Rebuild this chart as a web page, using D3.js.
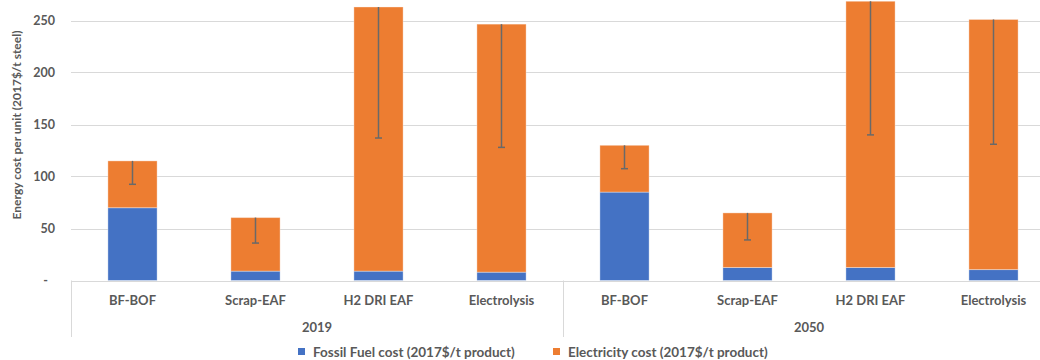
<!DOCTYPE html>
<html>
<head>
<meta charset="utf-8">
<script src="https://cdn.jsdelivr.net/npm/d3@7/dist/d3.min.js"></script>
<style>
  html, body { margin: 0; padding: 0; background: #fff; overflow: hidden; }
  svg { display: block; }
  text { font-family: "Lato", "Open Sans", sans-serif; fill: #595959; }
</style>
</head>
<body>
<svg id="chart" width="1040" height="360"></svg>
<script>
const years = ["2019", "2050"];
const processes = ["BF-BOF", "Scrap-EAF", "H2 DRI EAF", "Electrolysis"];
// order: 2019 x4, then 2050 x4
const fossilCost = [70, 9, 9, 8, 85, 12.5, 12.5, 10.5];
const electricityCost = [45, 51.5, 254, 238.5, 45, 52.5, 256, 240.5];
const errorLow = [92.5, 36, 137, 128, 107.5, 39, 140, 131];
const yTicks = [0, 50, 100, 150, 200, 250];
const seriesNames = ["Fossil Fuel cost (2017$/t product)", "Electricity cost (2017$/t product)"];
const colors = ["#4472C4", "#ED7D31"];

const rows = [];
years.forEach((yr, yi) => processes.forEach((p, pi) => {
  const i = yi * processes.length + pi;
  rows.push({ key: yr + "|" + p, year: yr, proc: p, fossil: fossilCost[i], elec: electricityCost[i], low: errorLow[i] });
}));

const svg = d3.select("#chart");
const left = 71, right = 1055, y0 = 280.5;

const x = d3.scaleBand().domain(rows.map(d => d.key)).range([left, right]).paddingInner(0.6).paddingOuter(0.3);
const y = d3.scaleLinear().domain([0, 250]).range([y0, 20.5]);

// gridlines
svg.append("g").selectAll("line").data(yTicks).join("line")
  .attr("x1", left).attr("x2", right)
  .attr("y1", d => Math.round(y(d)) + 0.5).attr("y2", d => Math.round(y(d)) + 0.5)
  .attr("stroke", "#d9d9d9").attr("stroke-width", 1.2);

// y tick labels
svg.append("g").selectAll("text").data(yTicks).join("text")
  .attr("x", d => d === 0 ? 48 : 55).attr("y", d => y(d)).attr("dy", "0.35em")
  .attr("text-anchor", "end").attr("font-size", 12.5).attr("font-weight", "bold")
  .text(d => d === 0 ? "-" : d);

// y title
svg.append("text")
  .attr("transform", "translate(21,125) rotate(-90)")
  .attr("text-anchor", "middle").attr("font-size", 12).attr("font-weight", "bold")
  .text("Energy cost per unit  (2017$/t steel)");

const stack = d3.stack().keys(["fossil", "elec"])(rows);
svg.append("g").selectAll("g").data(stack).join("g")
  .attr("fill", (d, i) => colors[i])
  .selectAll("rect").data(d => d).join("rect")
  .attr("x", d => x(d.data.key)).attr("width", x.bandwidth())
  .attr("y", d => y(d[1])).attr("height", d => y(d[0]) - y(d[1]))
  .attr("stroke", "rgba(255,255,255,0.35)").attr("stroke-width", 1);

// error bars (minus)
const eg = svg.append("g").attr("stroke", "#696969").attr("stroke-width", 1.5);
rows.forEach(d => {
  const cx = x(d.key) + x.bandwidth() / 2;
  eg.append("line").attr("x1", cx).attr("x2", cx).attr("y1", y(d.fossil + d.elec)).attr("y2", y(d.low));
  eg.append("line").attr("x1", cx - 3.5).attr("x2", cx + 3.5).attr("y1", y(d.low)).attr("y2", y(d.low));
});

// category labels
svg.append("g").selectAll("text").data(rows).join("text")
  .attr("x", d => x(d.key) + x.bandwidth() / 2).attr("y", 300).attr("dy", "0.35em")
  .attr("text-anchor", "middle").attr("font-size", 13).attr("font-weight", "bold")
  .text(d => d.proc);

// group dividers
const step = x.step();
const groupW = step * processes.length;
const divs = d3.range(years.length + 1).map(i => left + i * groupW);
svg.append("g").selectAll("line").data(divs).join("line")
  .attr("x1", d => Math.round(d) + 0.5).attr("x2", d => Math.round(d) + 0.5)
  .attr("y1", y0).attr("y2", 337)
  .attr("stroke", "#d9d9d9").attr("stroke-width", 1);

// year labels
svg.append("g").selectAll("text").data(years).join("text")
  .attr("x", (d, i) => left + i * groupW + groupW / 2).attr("y", 327).attr("dy", "0.35em")
  .attr("text-anchor", "middle").attr("font-size", 13).attr("font-weight", "bold")
  .text(d => d);

// legend
const legX = [298, 553];
const lg = svg.append("g");
seriesNames.forEach((n, i) => {
  lg.append("rect").attr("x", legX[i]).attr("y", 348).attr("width", 7).attr("height", 7).attr("fill", colors[i]);
  lg.append("text").attr("x", legX[i] + 15).attr("y", 352).attr("dy", "0.35em")
    .attr("font-size", 13.5).attr("font-weight", "bold").text(n);
});
</script>
</body>
</html>
